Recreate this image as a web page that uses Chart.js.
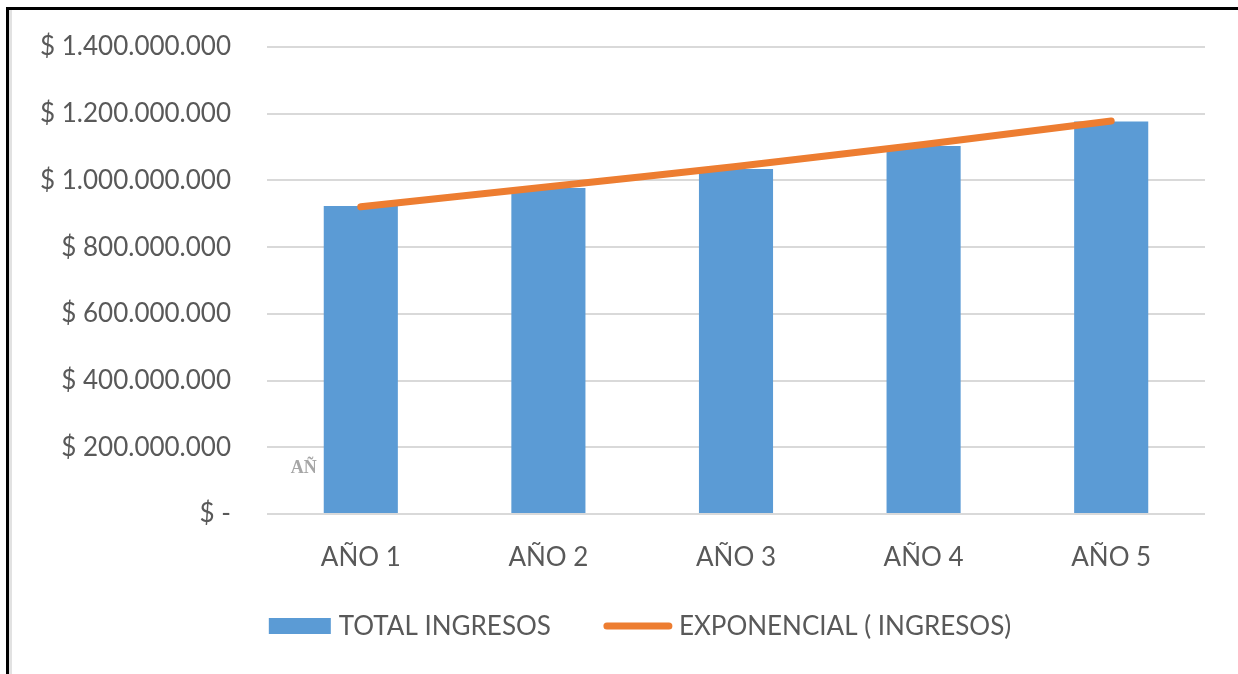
<!DOCTYPE html>
<html>
<head>
<meta charset="utf-8">
<script src="https://cdn.jsdelivr.net/npm/chart.js@4.4.1/dist/chart.umd.min.js"></script>
<style>
  html, body { margin: 0; padding: 0; background: #fff; }
  #wrap { position: relative; width: 1238px; height: 674px; overflow: hidden; }
  #frame {
    position: absolute; left: 6px; top: 7px; right: -10px; bottom: -10px;
    border-left: 3px solid #000; border-top: 3px solid #000;
    box-shadow: inset 3px 0 0 #e2e2e2;
    pointer-events: none;
  }
  canvas { position: absolute; left: 0; top: 0; }
</style>
</head>
<body>
<div id="wrap">
  <canvas id="grafico" width="1238" height="674"></canvas>
  <div id="frame"></div>
</div>
<script>
// años del proyecto
const anios = ['AÑO 1', 'AÑO 2', 'AÑO 3', 'AÑO 4', 'AÑO 5'];
// total ingresos por año ($)
const totalIngresos = [923000000, 977000000, 1034000000, 1103000000, 1177000000];
// línea de tendencia exponencial de los ingresos ($)
const tendencia = [921000000, 981000000, 1042000000, 1108000000, 1178000000];
const nombres = ['TOTAL INGRESOS', 'EXPONENCIAL ( INGRESOS)'];

const AZUL = '#5b9bd5';
const NARANJA = '#ed7d31';
const GRIS = '#595959';
const FUENTE = 'Lato, "Open Sans", sans-serif';

// formato contable: $ 1.400.000.000 y "$ -" para el cero
function pesos(v) {
  if (v === 0) return '$ -';
  return '$ ' + String(v).replace(/\B(?=(\d{3})+(?!\d))/g, '.');
}

// leyenda dibujada a mano debajo del gráfico
const leyenda = {
  id: 'leyenda',
  afterDraw(chart) {
    const ctx = chart.ctx;
    ctx.save();
    ctx.font = '26px ' + FUENTE;
    ctx.fillStyle = GRIS;
    ctx.textBaseline = 'middle';
    const y = 626;
    const w1 = ctx.measureText(nombres[0]).width;
    const w2 = ctx.measureText(nombres[1]).width;
    const total = 62 + 8 + w1 + 52 + 70 + 6 + w2;
    let x = 640 - total / 2;
    ctx.fillStyle = AZUL;
    ctx.fillRect(x, y - 8, 62, 16);
    x += 62 + 8;
    ctx.fillStyle = GRIS;
    ctx.fillText(nombres[0], x, y + 1);
    x += w1 + 52;
    ctx.strokeStyle = NARANJA;
    ctx.lineWidth = 7;
    ctx.lineCap = 'round';
    ctx.beginPath();
    ctx.moveTo(x + 4, y);
    ctx.lineTo(x + 66, y);
    ctx.stroke();
    x += 70 + 6;
    ctx.fillText(nombres[1], x, y + 1);
    ctx.restore();
  }
};

// rótulo suelto que asoma detrás de la primera barra
const rotuloOculto = {
  id: 'rotuloOculto',
  beforeDatasetsDraw(chart) {
    const ctx = chart.ctx;
    const xs = chart.scales.x;
    ctx.save();
    ctx.font = 'bold 18px "Liberation Serif", serif';
    ctx.fillStyle = '#a6a6a6';
    ctx.textBaseline = 'alphabetic';
    ctx.fillText('AÑ', xs.getPixelForValue(0) - 70, 473);
    ctx.restore();
  }
};

new Chart(document.getElementById('grafico'), {
  data: {
    labels: anios,
    datasets: [
      {
        type: 'line',
        label: nombres[1],
        data: tendencia,
        borderColor: NARANJA,
        borderWidth: 7,
        borderCapStyle: 'round',
        pointRadius: 0,
        tension: 0.2,
        order: 0
      },
      {
        type: 'bar',
        label: nombres[0],
        data: totalIngresos,
        backgroundColor: AZUL,
        barPercentage: 0.395,
        categoryPercentage: 1,
        order: 1
      }
    ]
  },
  options: {
    responsive: false,
    animation: false,
    layout: { padding: { left: 0, right: 33, top: 47, bottom: 0 } },
    plugins: {
      legend: { display: false },
      tooltip: { enabled: false }
    },
    scales: {
      x: {
        grid: { display: false },
        border: { display: false },
        ticks: {
          color: GRIS,
          font: { family: FUENTE, size: 26 },
          padding: 20,
          maxRotation: 0
        },
        afterFit(scale) { scale.height = 160; }
      },
      y: {
        min: 0,
        max: 1400000000,
        border: { display: false },
        grid: { color: '#d9d9d9', lineWidth: 2, drawTicks: false },
        ticks: {
          stepSize: 200000000,
          color: GRIS,
          font: { family: FUENTE, size: 26 },
          padding: 36,
          callback: v => pesos(v)
        },
        afterFit(scale) {
          scale.width = 267;
          scale.paddingTop = 0;
          scale.paddingBottom = 0;
        }
      }
    }
  },
  plugins: [rotuloOculto, leyenda]
});
</script>
</body>
</html>
